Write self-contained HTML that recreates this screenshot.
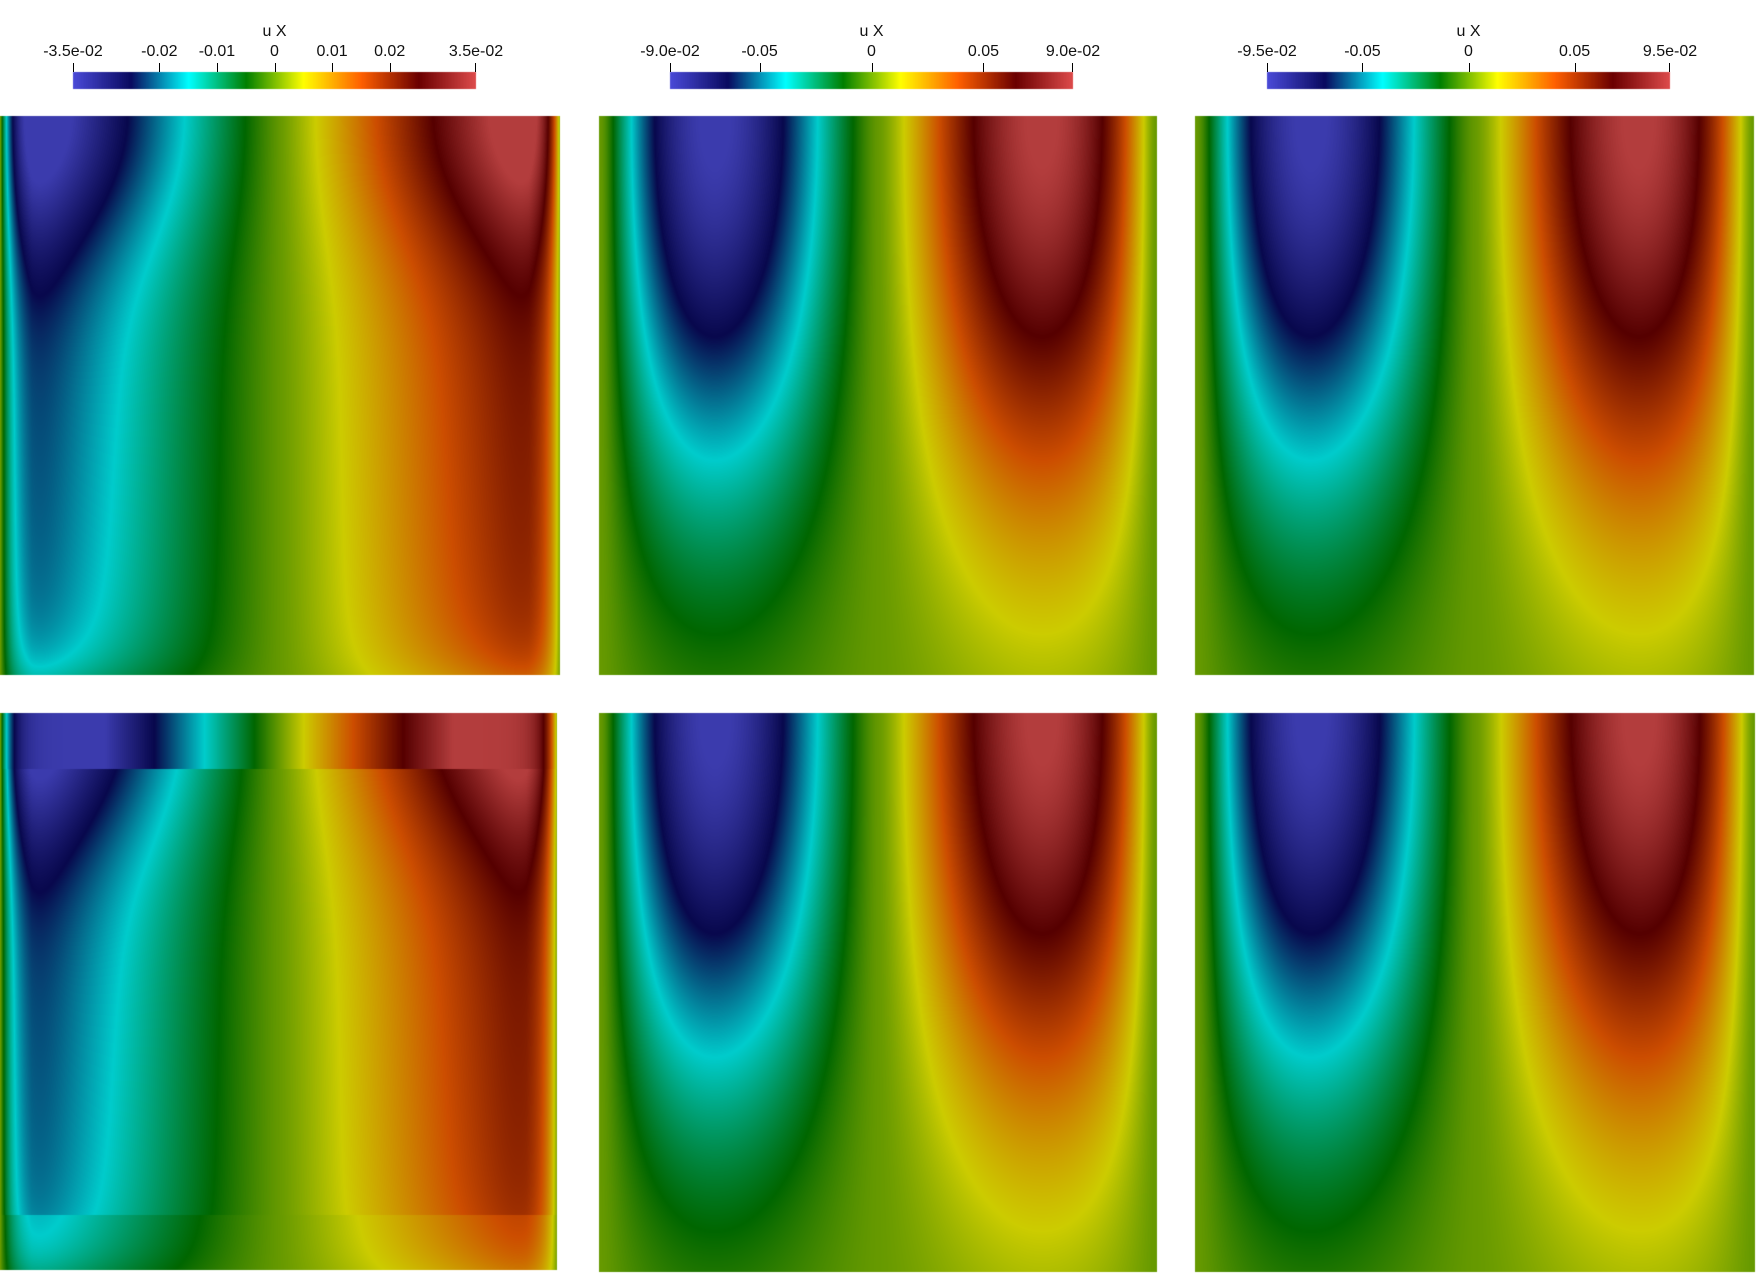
<!DOCTYPE html>
<html><head><meta charset="utf-8"><style>
html,body{margin:0;padding:0;background:#fff;width:1759px;height:1279px;overflow:hidden;font-family:"Liberation Sans",sans-serif}
canvas{position:absolute}
.t{position:absolute;font-size:16px;color:#111;transform:translateX(-50%);white-space:nowrap}
.k{position:absolute;width:1px;height:9px;background:#000;top:63px}
</style></head><body>
<canvas id="c" width="1759" height="1279" style="left:0;top:0"></canvas>
<div id="lab"></div>
<script>
const stops=[[0,[74,74,216]],[0.143,[10,10,96]],[0.286,[0,255,255]],[0.429,[0,128,0]],[0.571,[255,255,0]],[0.714,[255,96,0]],[0.857,[107,0,0]],[1,[224,76,76]]];
function cmap(v){v=Math.max(0,Math.min(1,v));for(let i=1;i<stops.length;i++){if(v<=stops[i][0]){const a=stops[i-1],b=stops[i];const f=(v-a[0])/(b[0]-a[0]);return [0,1,2].map(j=>a[1][j]+(b[1][j]-a[1][j])*f);}}return stops[stops.length-1][1];}
const cv=document.getElementById('c'),ctx=cv.getContext('2d');
function edge(x,s){const d=Math.min(x,1-x);return 1-Math.exp(-d/s);}
function cl(v){return Math.max(-1,Math.min(1,v));}
function f1(x,y,bot){
 let t=(x-0.5)/0.37;let h=Math.sign(t)*Math.pow(Math.min(Math.abs(t),1.2),1.1)*edge(x,0.025);
 let A=0.62+0.38*Math.exp(-Math.pow(y/0.24,2))-0.12*y;
 A*=1-0.3*Math.exp(-(1-y)/0.06);
 let v=h*A;
 if(bot){ if(y<0.1){v=cl((x-0.5)*3.2)*edge(x,0.02);} else if(y>0.9){v=v*0.85;} }
 return cl(v);}
function f2(x,y){
 let t=x-0.5;let w=0.5+0.5*Math.sign(t)*Math.pow(Math.abs(2*t),1.3);
 let v=-Math.sin(2*Math.PI*w)*edge(x,0.02)*1.02;
 let A=Math.exp(-Math.pow(y/0.66,2));
 return cl(v*A);}
function draw(x0,y0,w,h,fn){const im=ctx.createImageData(w,h);const d=im.data;
 for(let j=0;j<h;j++){const y=j/h;for(let i=0;i<w;i++){const x=i/w;const v=fn(x,y);const c=cmap((v+1)/2);const k=(j*w+i)*4;
 d[k]=c[0]*0.8;d[k+1]=c[1]*0.8;d[k+2]=c[2]*0.8;d[k+3]=255;}}
 ctx.putImageData(im,x0,y0);}
draw(0,116,560,559,(x,y)=>f1(x,y,false));
draw(599,116,558,559,f2);
draw(1195,116,559,559,f2);
draw(0,713,557,557,(x,y)=>f1(x,y,true));
draw(599,713,558,559,f2);
draw(1195,713,560,559,f2);
const bars=[[73,476,0.035,[-0.035,-0.02,-0.01,0,0.01,0.02,0.035],["-3.5e-02","-0.02","-0.01","0","0.01","0.02","3.5e-02"]],
[670,1073,0.09,[-0.09,-0.05,0,0.05,0.09],["-9.0e-02","-0.05","0","0.05","9.0e-02"]],
[1267,1670,0.095,[-0.095,-0.05,0,0.05,0.095],["-9.5e-02","-0.05","0","0.05","9.5e-02"]]];
let html='';
for(const [a,b,r,ticks,labs] of bars){
 for(let i=a;i<b;i++){const c=cmap((i-a)/(b-a));ctx.fillStyle=`rgb(${c[0]|0},${c[1]|0},${c[2]|0})`;ctx.fillRect(i,72,1,17);}
 html+=`<div class="t" style="left:${(a+b)/2}px;top:23px">u X</div>`;
 ticks.forEach((tv,i)=>{const x=a+(tv+r)/(2*r)*(b-a);html+=`<div class="k" style="left:${Math.round(x)-(i==ticks.length-1?1:0)}px"></div><div class="t" style="left:${x}px;top:43px">${labs[i]}</div>`;});
}
document.getElementById('lab').innerHTML=html;
</script>
</body></html>
